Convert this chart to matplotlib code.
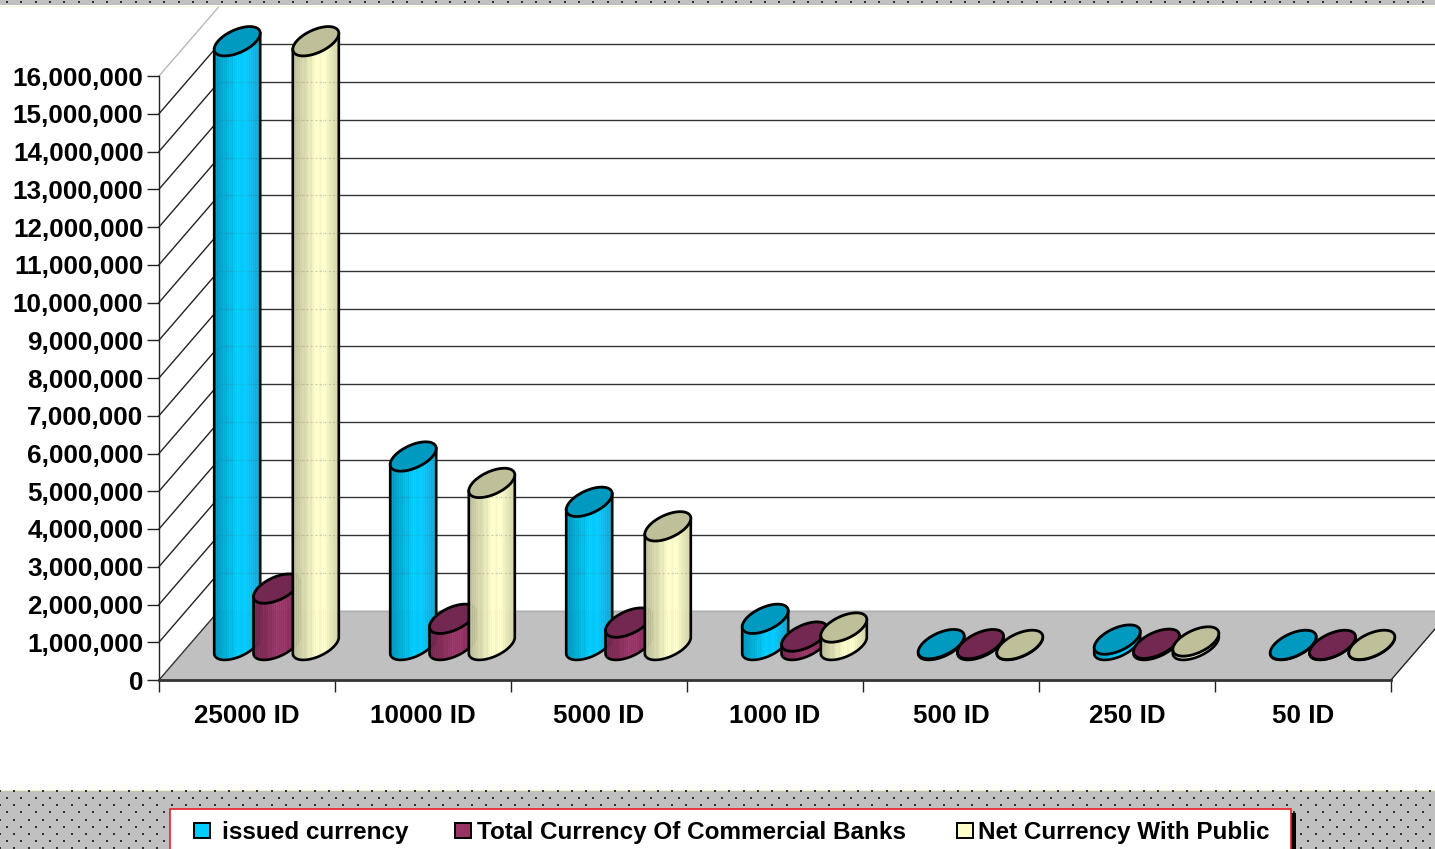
import numpy as np
import matplotlib
matplotlib.use("Agg")
import matplotlib.pyplot as plt
from matplotlib.patches import Polygon, Rectangle
from matplotlib.ticker import FuncFormatter

categories = ["25000 ID", "10000 ID", "5000 ID", "1000 ID", "500 ID", "250 ID", "50 ID"]
issued_currency = [16000000, 5000000, 3800000, 700000, 30000, 150000, 10000]
commercial_banks = [1500000, 700000, 600000, 230000, 30000, 40000, 10000]
with_public = [16000000, 4300000, 3150000, 470000, 10000, 100000, 10000]
series_names = ["issued currency", "Total Currency Of Commercial Banks", "Net Currency With Public"]
y_ticks = list(range(0, 17000000, 1000000))

W, H = 1435, 849
plt.rcParams['font.family'] = ['Liberation Sans', 'DejaVu Sans']
fig = plt.figure(figsize=(W / 100, H / 100), dpi=100, facecolor='white')
L, R, B, T = 159, 1391, 680, 76
ax = fig.add_axes([L / W, (H - B) / H, (R - L) / W, (B - T) / H])
ax.set_xlim(0, 7)
ax.set_ylim(0, 16000000)
ax.patch.set_alpha(0)
XP = 7 / (R - L)          # category units per pixel
YP = 16000000 / (B - T)   # value units per pixel
DX, DY = 60 * XP, 69.5 * YP  # chart depth
kw = dict(clip_on=False)

# floor
ax.add_patch(Polygon([(0, 0), (7, 0), (7 + DX, DY), (DX, DY)], closed=True, fc='#C0C0C0', ec='none', zorder=1, **kw))
ax.plot([DX, 7 + DX], [DY, DY], color='#B0B0B0', lw=1, zorder=1.1, **kw)
ax.plot([7, 7 + DX], [0, DY], color='#222222', lw=1, zorder=1.2, **kw)

# walls: gridlines on the back plus diagonals on the left
for v in y_ticks[1:]:
    c = '#B8B8B8' if v == y_ticks[-1] else '#222222'
    ax.plot([0, DX], [v, v + DY], color=c, lw=1, zorder=1.2, **kw)
    if v < y_ticks[-1]:
        ax.plot([DX, 7 + DX], [v + DY, v + DY], color='#333333', lw=1, zorder=1.2, **kw)
ax.plot([0, DX], [0, DY], color='#333333', lw=1, zorder=1.3, **kw)

palette = [
    dict(body='#00CCFF', top='#0099BF'),
    dict(body='#993366', top='#722850'),
    dict(body='#FFFFCC', top='#BFBF99'),
]
A, K, E = 23 * XP, 8 * YP, 12.3 * YP
OFFS = [-39.3 * XP, 0.0, 39.3 * XP]
GROUP = 87.5 * XP + DX / 2  # middle bar centre from the category's left edge
SHADE = [0.74, 0.76, 0.78, 0.80, 0.82, 0.85, 0.84, 0.88, 0.92, 0.90, 0.95, 0.98,
         1, 1, 0.97, 1, 1, 0.98, 0.95, 0.92, 0.90, 0.88, 0.86, 0.84]


def shade(col, f):
    rgb = np.array(matplotlib.colors.to_rgb(col))
    return tuple(rgb * f)


def cylinder(cx, value, pal, z):
    base = DY / 2
    n = len(SHADE)
    edges = np.arccos(np.linspace(-1, 1, n + 1))  # equal-width strips, left to right

    def arc(t, y0):
        return cx + A * np.cos(t), y0 + K * np.cos(t) - E * np.sin(t)

    top_y = base + value
    for i in range(n):
        t = np.linspace(edges[i], edges[i + 1], 5)
        xb, yb = arc(t, base)
        xt, yt = arc(t, top_y)
        poly = np.r_[np.c_[xb, yb], np.c_[xt, yt][::-1]]
        ax.add_patch(Polygon(poly, closed=True, fc=shade(pal['body'], SHADE[i]),
                             ec=shade(pal['body'], SHADE[i]), lw=0.3, zorder=z, **kw))
    # faint dotted continuation of the gridlines across tall cylinders
    for v in y_ticks[1:-1]:
        yy = v + DY
        if base + 2 * E < yy < top_y - E:
            ax.plot([cx - 0.6 * A, cx + A], [yy, yy], color='#888888', lw=0.8, ls=(0, (1, 3)),
                    alpha=0.55, zorder=z + 0.01, **kw)
    # outline of body
    t = np.linspace(np.pi, 0, 60)
    xb, yb = arc(t, base)
    ax.plot(np.r_[cx - A, xb, cx + A], np.r_[top_y - K, yb, top_y + K], color='black', lw=1.9,
            zorder=z + 0.02, solid_joinstyle='round', **kw)
    # top ellipse
    t = np.linspace(0, 2 * np.pi, 90)
    xt, yt = arc(t, top_y)
    ax.add_patch(Polygon(np.c_[xt, yt], closed=True, fc=pal['top'], ec='black', lw=2.0,
                         zorder=z + 0.03, **kw))


all_series = [issued_currency, commercial_banks, with_public]
for c in range(len(categories)):
    for s, vals in enumerate(all_series):
        cylinder(c + GROUP + OFFS[s], vals[c], palette[s], 3 + c + s * 0.1)

# axes
ax.set_yticks(y_ticks)
ax.yaxis.set_major_formatter(FuncFormatter(lambda v, _: f"{int(v):,}"))
ax.set_xticks(range(8))
ax.set_xticklabels([])
ax.set_xticks(np.arange(7) + 0.5, categories, minor=True)
ax.tick_params(axis='y', length=8.6, width=1.0, pad=2.5, labelsize=18.7, color='#222222')
ax.tick_params(axis='x', which='major', length=8.6, width=1.0, color='#222222')
ax.tick_params(axis='x', which='minor', length=0, pad=17, labelsize=18.7)
for lab in ax.get_yticklabels() + ax.get_xticklabels(minor=True):
    lab.set_fontweight('bold')
for sp in ('top', 'right'):
    ax.spines[sp].set_visible(False)
ax.spines['left'].set_linewidth(1.0)
ax.spines['left'].set_color('#222222')
ax.spines['bottom'].set_linewidth(2.0)
ax.spines['bottom'].set_color('#333333')

# page frame: dotted bands and legend, in pixel coordinates
ov = fig.add_axes([0, 0, 1, 1], zorder=20)
ov.set_xlim(0, W)
ov.set_ylim(H, 0)
ov.axis('off')
ov.patch.set_alpha(0)
ov.add_patch(Rectangle((0, 0), W, 5, fc='#C0C0C0', ec='none'))
ov.add_patch(Rectangle((0, 790), W, H - 790, fc='#C0C0C0', ec='none'))
ov.plot([0, W], [790, 790], color='#F2F0C8', lw=0.8)
ov.plot([0, W], [5.5, 5.5], color='#F7F5D8', lw=0.8)
dx_pts, dy_pts = [], []
for r, y in enumerate(list(np.arange(791, H, 7.15)) + [2.0]):
    x0 = 7 if r % 2 else 0
    xs = np.arange(x0, W, 14.3)
    dx_pts.extend(xs)
    dy_pts.extend([y] * len(xs))
ov.scatter(dx_pts, dy_pts, s=1.2, marker='s', color='#303030', linewidths=0, zorder=2)

ov.add_patch(Rectangle((1291, 813), 5, H - 813, fc='black', ec='none', zorder=3))
ov.add_patch(Rectangle((169.5, 808.5), 1121, 60, fc='white', ec='#EE1C25', lw=1.2, zorder=3))
sw_x = [194, 455, 957]
tx_x = [222, 477, 978]
for i, name in enumerate(series_names):
    ov.add_patch(Rectangle((sw_x[i], 823), 16, 15, fc=palette[i]['body'], ec='black', lw=1.4, zorder=4))
    ov.text(tx_x[i], 832.5, name, fontsize=17.5, fontweight='bold', va='center', ha='left', color='black', zorder=4)

fig.savefig('out.png', dpi=100)
